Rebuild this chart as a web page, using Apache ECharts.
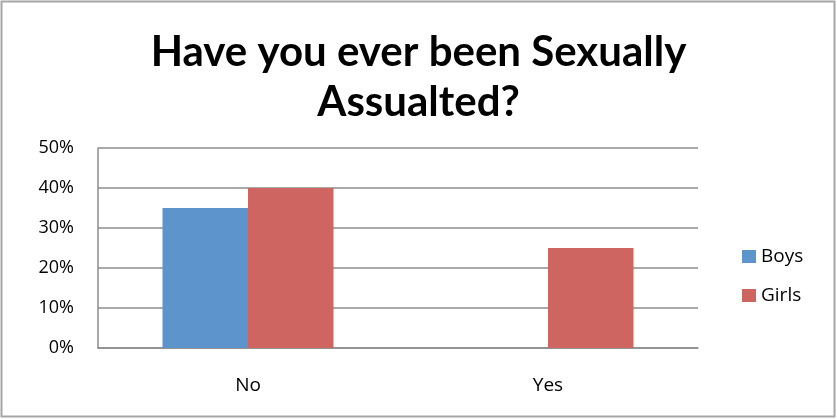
<!DOCTYPE html>
<html>
<head>
<meta charset="utf-8">
<script src="https://cdn.jsdelivr.net/npm/echarts@6/dist/echarts.min.js"></script>
<style>
  body { margin: 0; background: #fff; }
  #chart { width: 837px; height: 419px; }
</style>
</head>
<body>
<div id="chart"></div>
<script>
let categories = ['No', 'Yes'];
let boys = [35, 0];
let girls = [40, 25];
let yTicks = [0, 10, 20, 30, 40, 50];

let chart = echarts.init(document.getElementById('chart'));

chart.setOption({
    animation: false,
    title: {
        text: 'Have you ever been Sexually\nAssualted?',
        left: 'center',
        top: 22,
        textStyle: {
            fontFamily: 'Lato',
            fontWeight: 'bold',
            fontSize: 42,
            lineHeight: 50,
            color: '#000'
        }
    },
    // light frame round the picture
    graphic: [{
        type: 'rect',
        shape: { x: 1.5, y: 1.5, width: 833, height: 415 },
        style: { fill: 'none', stroke: '#a6a6a6', lineWidth: 2 },
        silent: true
    }],
    legend: {
        orient: 'vertical',
        left: 737,
        top: 242,
        itemWidth: 14,
        itemHeight: 13,
        itemGap: 20,
        icon: 'rect',
        textStyle: { fontFamily: 'Open Sans', fontSize: 19, color: '#000' },
        data: ['Boys', 'Girls']
    },
    grid: { left: 98, right: 139, top: 148, bottom: 71 },
    xAxis: {
        type: 'category',
        data: categories,
        axisLine: { lineStyle: { color: '#8c8c8c', width: 1.5 } },
        axisTick: { show: false },
        axisLabel: { margin: 28, fontFamily: 'Open Sans', fontSize: 19, color: '#000' }
    },
    yAxis: {
        type: 'value',
        min: 0,
        max: 50,
        interval: 10,
        axisLine: { show: true, lineStyle: { color: '#8c8c8c', width: 1.5 } },
        axisTick: { show: false },
        splitLine: { lineStyle: { color: '#8c8c8c', width: 1.5 } },
        axisLabel: {
            margin: 24,
            fontFamily: 'Open Sans',
            fontSize: 18,
            color: '#000',
            formatter: function (v) {
                return yTicks.indexOf(v) >= 0 ? v + '%' : '';
            }
        }
    },
    series: [
        {
            name: 'Boys',
            type: 'bar',
            data: boys,
            barGap: '0%',
            barCategoryGap: '43%',
            itemStyle: { color: '#5E94CC' }
        },
        {
            name: 'Girls',
            type: 'bar',
            data: girls,
            itemStyle: { color: '#CF6560' }
        }
    ]
});
</script>
</body>
</html>
